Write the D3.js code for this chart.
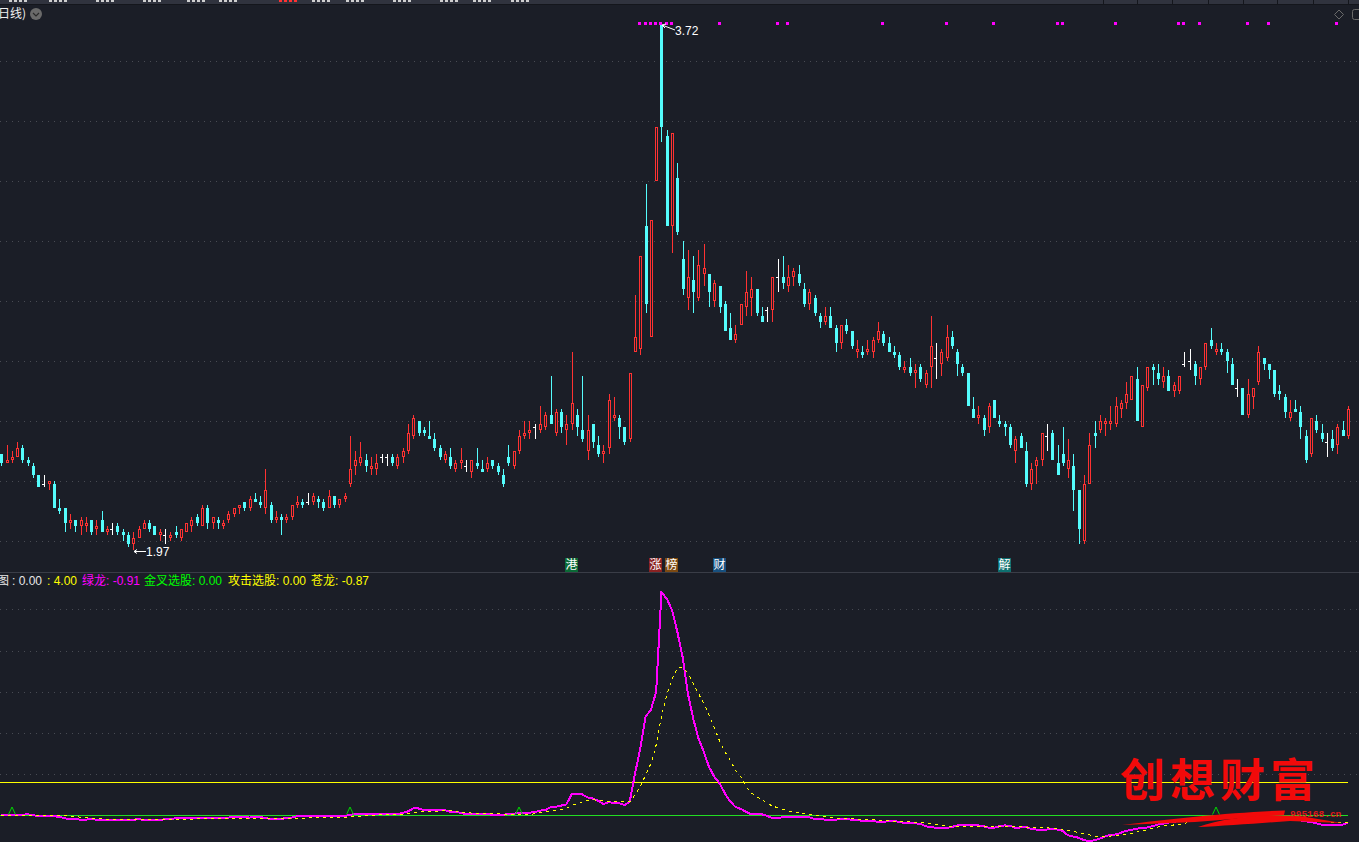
<!DOCTYPE html>
<html><head><meta charset="utf-8">
<script src="https://cdn.jsdelivr.net/npm/d3@7/dist/d3.min.js"></script>
<style>html,body{margin:0;padding:0;background:#1b1e27;overflow:hidden}svg{display:block}</style>
</head><body><svg id="c" width="1359" height="842"></svg>
<script>
// Prices in cents, one entry per daily candle
const open = [229,226,227,228,231,227,225,222,219,219,
219,211,211,206,207,205,205,207,204,207,
203,204,205,203,202,199,201,204,206,205,
202,202,201,203,201,203,205,208,205,211,
206,207,205,207,209,211,213,211,214,213,
211,212,207,208,207,208,212,213,213,213,
214,213,211,215,212,214,219,225,226,227,
224,224,228,228,228,225,228,230,235,240,
237,235,234,231,227,228,224,226,225,223,
226,224,224,227,225,222,228,225,230,235,
236,238,237,238,242,236,243,237,239,242,
237,230,239,232,229,231,241,241,238,234,
263,264,305,268,320,372,335,305,321,294,
281,287,281,289,289,280,285,279,271,267,
272,278,281,284,275,277,277,288,288,285,
288,289,284,279,281,275,273,275,271,266,
272,270,263,263,263,263,267,269,266,263,
262,257,258,256,258,252,258,261,259,261,
268,263,258,256,244,241,241,238,247,240,
239,238,230,235,230,219,225,227,235,236,
226,229,224,225,217,200,219,236,237,239,
239,239,244,246,247,254,238,251,258,256,
253,255,250,250,259,260,259,254,258,267,
263,264,263,259,251,251,242,248,253,261,
259,257,250,248,241,244,243,235,229,240,
236,233,234,232,237,235];
const close = [226,227,228,231,227,226,222,218,219,220,
211,210,206,207,205,207,206,203,205,203,
204,204,203,202,199,201,204,206,204,202,
203,202,202,202,204,206,207,206,211,206,
208,206,206,209,211,212,211,214,213,212,
217,207,208,207,208,212,213,212,213,215,
213,211,215,212,214,215,224,227,228,225,
225,226,228,228,226,228,230,236,241,236,
236,234,231,228,229,225,226,227,225,227,
225,223,226,225,223,219,226,230,235,236,
237,238,239,242,239,243,238,239,246,238,
234,237,233,229,230,247,242,238,233,256,
268,295,279,307,338,338,305,336,303,284,
288,283,292,291,283,286,278,270,267,269,
279,283,284,276,273,277,288,288,286,288,
290,286,279,283,276,273,275,271,266,272,
270,265,264,262,264,267,270,266,263,262,
258,258,256,257,254,256,265,261,263,268,
265,259,256,245,241,242,237,245,241,239,
238,232,234,231,219,224,227,236,235,227,
222,226,227,217,204,219,232,235,240,240,
240,245,246,249,255,240,252,258,257,254,
255,250,252,255,259,260,255,258,266,265,
264,263,260,252,251,242,249,251,263,259,
257,249,249,243,243,243,238,227,241,237,
234,233,231,238,235,244];
const high = [229,232,230,233,232,228,226,222,222,220,
220,214,211,209,207,208,208,207,207,210,
205,206,206,204,203,203,205,207,207,205,
204,204,203,205,204,206,208,209,212,212,
208,208,207,210,211,212,213,215,216,215,
224,213,210,209,209,212,215,214,216,216,
215,214,217,215,214,216,235,230,233,229,
228,229,229,229,229,229,231,239,242,240,
238,240,236,232,230,231,227,231,227,227,
231,227,228,227,226,224,232,230,237,240,
240,239,245,243,255,244,244,242,263,244,
255,242,239,235,232,249,248,242,238,256,
282,295,319,307,338,372,337,336,326,300,
297,295,297,299,289,287,285,280,276,272,
279,290,288,284,278,278,288,294,295,292,
291,292,286,284,282,276,278,278,272,272,
274,270,267,265,267,268,273,270,268,265,
263,260,261,259,259,257,275,266,264,272,
270,264,259,256,248,245,242,246,247,242,
240,239,235,236,233,226,228,236,239,237,
232,238,234,229,217,222,236,240,242,241,
245,248,247,253,255,258,252,258,259,259,
258,257,253,255,263,264,260,258,266,271,
266,266,264,261,254,251,254,251,265,261,
259,257,252,249,247,247,245,237,241,242,
239,236,237,239,240,245];
const low = [225,226,226,228,226,225,221,218,218,217,
211,209,203,204,203,202,203,202,202,203,
202,202,202,200,198,197,201,204,203,202,
200,199,200,201,200,203,203,205,205,204,
204,204,204,206,208,209,210,210,213,211,
209,206,206,202,206,207,211,211,212,212,
211,210,211,211,211,213,218,222,225,223,
222,222,226,225,225,224,226,229,234,235,
235,234,230,227,226,224,223,224,223,221,
224,223,223,224,222,218,225,224,229,234,
234,234,236,237,239,235,236,232,237,235,
233,227,231,228,226,229,240,234,232,233,
263,262,276,268,320,333,305,296,302,282,
277,276,280,285,278,278,276,270,267,266,
272,275,275,275,273,273,273,283,284,283,
285,285,278,277,275,271,272,271,263,264,
269,264,261,261,262,261,266,265,263,261,
257,256,255,251,253,251,251,254,255,260,
264,255,255,245,241,239,235,236,241,238,
235,231,226,231,218,217,219,225,230,227,
222,225,221,210,199,199,219,231,236,235,
237,238,241,244,247,240,238,250,252,252,
251,250,248,249,258,257,252,252,257,264,
262,262,256,252,248,242,241,244,252,257,
254,248,247,241,240,243,234,226,228,236,
233,228,230,229,235,234];
// Lower indicator: 绿龙 (solid magenta) and 苍龙 (dashed yellow)
const lvLong = [.1,.1,.1,.1,.1,.15,.05,-.1,-.1,-.1,
-.1,-.15,-.35,-.4,-.45,-.5,-.5,-.45,-.5,-.5,
-.5,-.55,-.5,-.55,-.55,-.55,-.4,-.6,-.6,-.6,
-.55,-.45,-.4,-.35,-.35,-.35,-.3,-.3,-.35,-.35,
-.35,-.25,-.25,-.25,-.2,-.2,-.2,-.25,-.15,-.15,
-.3,-.45,-.45,-.45,-.25,-.25,-.1,-.1,-.1,-.1,
-.1,-.1,-.1,-.1,-.1,-.1,.1,.15,.15,.15,
.2,.15,.15,.2,.15,.2,.3,.5,.85,.85,
.65,.65,.65,.7,.65,.45,.4,.35,.15,.2,
.15,.15,.15,.1,.1,.1,.15,.2,.35,.35,
.35,.4,.6,.65,1.0,1.05,1.2,1.35,2.55,2.55,
2.55,2.2,2.05,1.8,1.4,1.6,1.55,1.5,1.25,1.7,
5.1,8.15,12,12.8,15,27.05,26.3,24.9,22.3,19.25,
14.8,11.8,9.35,7.75,5.9,4.7,3.9,2.7,1.7,1.05,
.8,.45,.15,.15,.15,-.05,-.3,-.3,-.2,-.15,
-.15,-.15,-.15,-.2,-.45,-.45,-.5,-.5,-.5,-.45,
-.45,-.5,-.5,-.65,-.65,-.7,-.75,-.75,-.7,-.7,
-.75,-.95,-.95,-.95,-1.0,-1.3,-1.4,-1.5,-1.5,-1.5,
-1.4,-1.2,-1.2,-1.2,-1.2,-1.2,-1.3,-1.5,-1.5,-1.3,
-1.2,-1.25,-1.5,-1.45,-1.35,-1.65,-1.7,-1.7,-1.7,-1.65,
-1.7,-1.9,-2.4,-2.55,-2.7,-3.0,-3.1,-3.0,-2.8,-2.55,
-2.35,-2.3,-2.1,-1.85,-1.75,-1.6,-1.5,-1.45,-1.3,-1.1,
-1.0,-.85,-.75,-.7,-.6,-.5,-.4,-.35,-.3,-.3,
-.25,-.2,-.2,-.15,-.15,-.15,-.15,-.2,-.2,-.15,
-.25,-.4,-.4,-.45,-.5,-.55,-.6,-.7,-.8,-.95,
-1.1,-1.1,-1.1,-1.1,-1.1,-.91];
const cangLong = [.05,.05,0,.05,.05,.05,.05,.05,.05,.05,
.05,.05,0,-.1,-.15,-.2,-.25,-.3,-.35,-.4,
-.45,-.45,-.5,-.5,-.5,-.5,-.5,-.5,-.5,-.5,
-.5,-.45,-.45,-.45,-.45,-.45,-.45,-.4,-.4,-.4,
-.35,-.35,-.35,-.35,-.35,-.35,-.35,-.35,-.35,-.35,
-.35,-.35,-.35,-.35,-.35,-.35,-.35,-.35,-.3,-.3,
-.25,-.25,-.25,-.25,-.25,-.25,-.2,-.1,-.1,-.05,
0,.05,.1,.1,.1,.1,.15,.2,.3,.45,
.5,.5,.5,.55,.6,.6,.55,.45,.35,.3,
.3,.3,.25,.2,.2,.15,.15,.15,.15,.15,
.15,.2,.35,.45,.6,.65,.75,.85,1.2,1.45,
1.65,1.8,1.9,1.85,1.75,1.7,1.7,1.7,1.65,1.65,
2.5,3.5,4.9,6.3,8.55,12,14.6,16.5,17.9,17.9,
17.3,16,14.8,13.6,12.2,10.65,9.05,7.75,6.75,5.5,
4.7,3.5,2.75,2.3,1.9,1.5,1.15,.95,.75,.55,
.4,.3,.2,.1,.05,-.05,-.15,-.2,-.3,-.35,
-.4,-.4,-.45,-.45,-.5,-.5,-.55,-.55,-.65,-.7,
-.7,-.75,-.75,-.8,-.85,-.9,-1.0,-1.1,-1.2,-1.25,
-1.3,-1.35,-1.35,-1.35,-1.35,-1.35,-1.35,-1.35,-1.35,-1.35,
-1.35,-1.35,-1.35,-1.35,-1.4,-1.45,-1.45,-1.5,-1.5,-1.55,
-1.65,-1.75,-1.85,-1.95,-2.05,-2.2,-2.35,-2.5,-2.55,-2.55,
-2.5,-2.4,-2.35,-2.25,-2.2,-2.0,-1.85,-1.75,-1.55,-1.4,
-1.25,-1.2,-1.15,-1.1,-1.0,-.75,-.7,-.65,-.55,-.5,
-.4,-.3,-.25,-.2,-.15,-.15,-.2,-.2,-.25,-.3,
-.3,-.3,-.3,-.3,-.3,-.35,-.4,-.45,-.55,-.65,
-.7,-.75,-.8,-.8,-.85,-.87];
const signalDays = [121,122,123,124,125,126,127,136,147,149,167,179,188,200,201,211,223,224,227,236,240,253];
const goldenCrossDays = [2,66,98,230];
const priceTicks = [200,220,240,260,280,300,320,340,360];
const indicatorTicks = [5,10,15,20,25];
const newsDays = [108,124,127,136,190];
const newsLabels = ["港","涨","榜","财","解"];
const newsColors = ["#0b6a36","#8a2222","#7d4a12","#17507f","#0d7070"];
const legendTexts = ["图",": 0.00",": 4.00","绿龙: -0.91","金叉选股: 0.00","攻击选股: 0.00","苍龙: -0.87"];
const legendColors = ["#e8e8e8","#e8e8e8","#ffff00","#ff00ff","#00ff00","#ffff00","#ffff00"];
const legendX = [-3,12,47,82,144,228,311];
const headerX = [9,49,96,143,187,219,279,312,346,393,440,473,511];
const headerCells = [1103,1137,1172,1208,1243,1277,1313,1348];

const svg = d3.select("#c");
const W = 1359;
const bg = "#1b1e27", cyan = "#54fcfc", red = "#ff3232";
svg.append("rect").attr("width",W).attr("height",842).attr("fill",bg);

const x = d3.scaleLinear().domain([0,255]).range([1.3,1348]);
const col = i => Math.round(x(i));
const y = d3.scaleLinear().domain([200,360]).range([541,61]);
const y2 = d3.scaleLinear().domain([0,25]).range([815.5,609.3]);

// header bar: only illegible bottoms of a clipped toolbar show in the reference
const hb = svg.append("g").attr("shape-rendering","crispEdges");
hb.append("rect").attr("width",W).attr("height",4).attr("fill","#30333e");
hb.append("rect").attr("y",4).attr("width",W).attr("height",1).attr("fill","#14161c");
hb.selectAll(".f").data(headerX.flatMap((h,k)=>[0,5,10,15].map(o=>({x:h+o,k})))).join("rect")
  .attr("x",d=>d.x).attr("y",0).attr("width",3).attr("height",2)
  .attr("fill",d=>d.k===6?"#ff3232":"#cfcfcf");
hb.selectAll(".hc").data(headerCells).join("rect").attr("x",d=>d).attr("y",0).attr("width",1).attr("height",4).attr("fill","#14161c");

// grid
const grid = (ticks, scale) => svg.append("g").selectAll("line").data(ticks).join("line")
  .attr("x1",0).attr("x2",W).attr("y1",d=>Math.round(scale(d))+.5).attr("y2",d=>Math.round(scale(d))+.5)
  .attr("stroke","#484b53").attr("stroke-width",1).attr("stroke-dasharray","1,5");
grid(priceTicks,y); grid(indicatorTicks,y2);

// candles
const days = d3.range(open.length);
const kind = i => close[i]>open[i]?"up":close[i]<open[i]?"down":"flat";
const g = svg.append("g").attr("shape-rendering","crispEdges");
g.selectAll(".wick").data(days).join("rect")
  .attr("x",col).attr("width",1)
  .attr("y",i=>y(high[i])).attr("height",i=>Math.max(1,y(low[i])-y(high[i])))
  .attr("fill",i=>({up:red,down:cyan,flat:"#ffffff"})[kind(i)]);
g.selectAll(".body").data(days.filter(i=>kind(i)!=="flat")).join("rect")
  .each(function(i){
    const top=y(Math.max(open[i],close[i])), bot=y(Math.min(open[i],close[i]));
    const s=d3.select(this);
    if(kind(i)==="up"){
      s.attr("x",col(i)-.5).attr("width",2).attr("y",top+.5).attr("height",bot-top-1)
       .attr("fill",bg).attr("stroke",red).attr("stroke-width",1);
    } else {
      s.attr("x",col(i)-1).attr("width",3).attr("y",top).attr("height",bot-top).attr("fill",cyan);
    }
  });
g.selectAll(".tick").data(days.filter(i=>kind(i)==="flat")).join("rect")
  .attr("x",i=>col(i)-2).attr("width",2).attr("y",i=>y(open[i])).attr("height",1).attr("fill","#ffffff");

// signal squares
g.selectAll(".sig").data(signalDays).join("rect")
  .attr("x",i=>col(i)-2).attr("y",22).attr("width",3).attr("height",3).attr("fill","#ff00ff");

// high / low labels
const labelFont = "Liberation Sans";
const hi = 125, lo = 25;
svg.append("path").attr("d",`M${col(hi)+1},${y(372)}l13,5M${col(hi)+1},${y(372)}l4,-1M${col(hi)+1},${y(372)}l3,3`)
  .attr("stroke","#fff").attr("fill","none");
svg.append("text").attr("x",col(hi)+14).attr("y",y(372)+10).attr("fill","#fff").attr("font-family",labelFont).attr("font-size",12).text("3.72");
svg.append("path").attr("d",`M${col(lo)+1},${y(197)+1.5}h12M${col(lo)+1},${y(197)+1.5}l3,-2M${col(lo)+1},${y(197)+1.5}l3,2`)
  .attr("stroke","#fff").attr("fill","none");
svg.append("text").attr("x",col(lo)+13).attr("y",y(197)+6).attr("fill","#fff").attr("font-family",labelFont).attr("font-size",12).text("1.97");

// title
svg.append("text").attr("x",-2).attr("y",18).attr("fill","#f0f0f0").attr("font-family","Noto Sans CJK SC").attr("font-size",12).text("日线)");
svg.append("circle").attr("cx",36).attr("cy",14).attr("r",6).attr("fill","#6a6a6a");
svg.append("path").attr("d","M33,13l3,3l3,-3").attr("stroke","#2a2a2a").attr("stroke-width",1.2).attr("fill","none");
svg.append("path").attr("d","M1339,10l4.5,4.5l-4.5,4.5l-4.5,-4.5z").attr("stroke","#6a6a6a").attr("fill","none");
svg.append("rect").attr("x",1352.5).attr("y",9.5).attr("width",10).attr("height",10).attr("rx",2).attr("stroke","#6a6a6a").attr("fill","none");

// news badges
const nb = svg.append("g");
nb.selectAll("rect").data(newsDays).join("rect").attr("x",i=>col(i)-7).attr("y",558).attr("width",13).attr("height",14)
  .attr("fill",(d,i)=>newsColors[i]);
nb.selectAll("text").data(newsDays).join("text").attr("x",i=>col(i)-.5).attr("y",569).attr("text-anchor","middle")
  .attr("fill","#ffffff").attr("font-family","Noto Sans CJK SC").attr("font-size",12).text((d,i)=>newsLabels[i]);

// divider + legend
svg.append("rect").attr("x",0).attr("y",572).attr("width",W).attr("height",1).attr("fill","#3a3d47");
svg.selectAll(".lg").data(legendTexts).join("text").attr("x",(d,i)=>legendX[i]).attr("y",585)
  .attr("font-family","Liberation Sans, Noto Sans CJK SC").attr("font-size",12)
  .attr("fill",(d,i)=>legendColors[i]).text(d=>d);

// indicator reference lines
const rl = svg.append("g").attr("shape-rendering","crispEdges");
rl.append("line").attr("x1",0).attr("x2",x(255)).attr("y1",y2(4)+.3).attr("y2",y2(4)+.3).attr("stroke","#ffff00").attr("stroke-width",1);
rl.append("line").attr("x1",0).attr("x2",x(255)).attr("y1",y2(0)).attr("y2",y2(0)).attr("stroke","#22dd22").attr("stroke-width",1);

// indicator lines (aliased, as in the reference)
const line = arr => d3.line().x(i=>x(i)).y(i=>y2(arr[i]))(days);
svg.append("path").attr("d",line(lvLong)).attr("fill","none").attr("stroke","#ff00ff").attr("stroke-width",2).attr("shape-rendering","crispEdges");
svg.append("path").attr("d",line(cangLong)).attr("fill","none").attr("stroke","#ffff00").attr("stroke-width",1).attr("stroke-dasharray","3,4").attr("shape-rendering","crispEdges");

// golden-cross triangles
svg.append("g").selectAll("path").data(goldenCrossDays).join("path")
  .attr("d",i=>`M${col(i)-3.5},${y2(0)-1}L${col(i)},${y2(0)-8.5}L${col(i)+3.5},${y2(0)-1}`)
  .attr("fill","none").attr("stroke","#00d800").attr("stroke-width",1);

// watermark
const wm = svg.append("g");
wm.append("text").attr("x",1120).attr("y",797).attr("font-family","Noto Sans CJK SC").attr("font-weight",700)
  .attr("font-size",45).attr("letter-spacing",5).attr("fill","#f20a0a").text("创想财富");
wm.append("path").attr("d","M1122,825 C1170,819 1235,812 1285,810.5 L1284,815 C1250,817 1225,820 1195,822 Z").attr("fill","#f20a0a");
wm.append("path").attr("d","M1198,827 C1225,817 1265,814 1300,816 L1342,823 L1290,821 C1260,823 1225,826 1198,827 Z").attr("fill","#f20a0a");
wm.append("text").attr("x",1290).attr("y",817).attr("font-family","Liberation Mono").attr("font-weight",700)
  .attr("font-size",9.5).attr("fill","#e01818").text("995168.cn");
</script></body></html>
